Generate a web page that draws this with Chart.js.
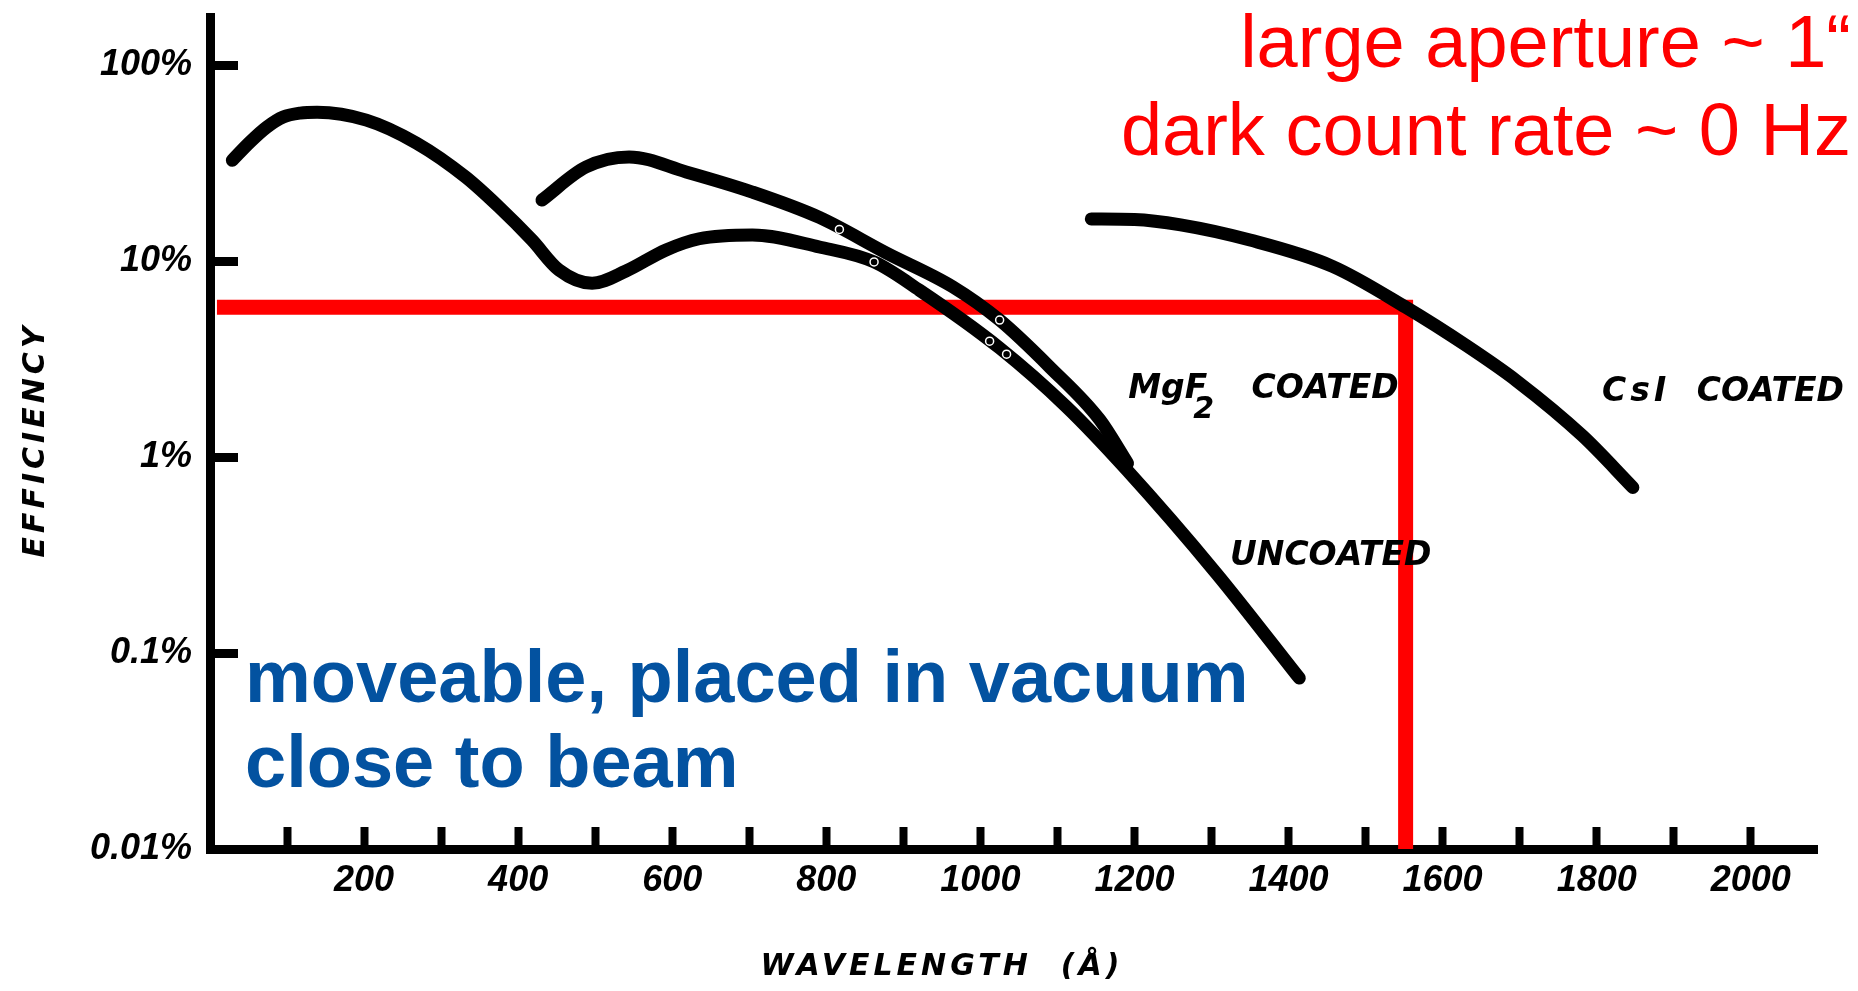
<!DOCTYPE html>
<html>
<head>
<meta charset="utf-8">
<script src="https://cdn.jsdelivr.net/npm/chart.js@4.4.1/dist/chart.umd.min.js"></script>
<style>
  html, body { margin: 0; padding: 0; background: #fff; overflow: hidden; }
  canvas { display: block; }
</style>
</head>
<body>
<canvas id="chart" width="1858" height="991"></canvas>
<script>
// Detection efficiency (%) versus wavelength (Å)
const uncoatedWl  = [29, 52, 74, 95, 117, 139, 203, 268, 332, 375, 418, 453, 496, 540, 592, 635, 704, 791, 862, 921, 1025, 1112, 1190, 1306, 1414];
const uncoatedEff = [32.7, 40.5, 48.3, 54.3, 56.9, 57.5, 52.4, 40.0, 26.8, 18.9, 12.8, 9.0, 7.7, 8.9, 11.4, 13.0, 13.6, 11.8, 9.9, 7.1, 3.6, 1.8, 0.86, 0.256, 0.0745];

const mgf2Wl  = [431, 488, 544, 618, 704, 791, 878, 964, 1025, 1090, 1155, 1191];
const mgf2Eff = [20.5, 30.2, 34.0, 28.5, 22.5, 16.7, 11.0, 7.4, 5.0, 2.88, 1.55, 0.93];

const csiWl  = [1144, 1200, 1260, 1350, 1457, 1552, 1631, 1696, 1782, 1847];
const csiEff = [16.4, 16.3, 15.3, 12.8, 9.4, 5.82, 3.7, 2.45, 1.28, 0.70];

// Calibration points marked on the curves
const dotWl  = [817, 862, 1025, 1012, 1034];
const dotEff = [14.5, 9.9, 5.0, 3.9, 3.35];

// Working point: efficiency level and wavelength read-off
const markerWl  = [9, 1552, 1552];
const markerEff = [5.82, 5.82, 0.01];

// Axis ticks
const xTickValues = [100, 200, 300, 400, 500, 600, 700, 800, 900, 1000, 1100, 1200, 1300, 1400, 1500, 1600, 1700, 1800, 1900, 2000];
const xTickLabels = ['', '200', '', '400', '', '600', '', '800', '', '1000', '', '1200', '', '1400', '', '1600', '', '1800', '', '2000'];
const yTickValues = [0.01, 0.1, 1, 10, 100];
const yTickLabels = ['0.01%', '0.1%', '1%', '10%', '100%'];

// Text
const xTitle = 'WAVELENGTH  (Å)';
const yTitle = 'EFFICIENCY';
const headline = ['large aperture ~ 1\u201C', 'dark count rate ~ 0 Hz'];
const note = ['moveable, placed in vacuum', 'close to beam'];

const pts = (xs, ys) => xs.map((x, i) => ({ x: x, y: ys[i] }));

const tickFont = { family: "'Liberation Sans', Arial, sans-serif", size: 36, style: 'italic', weight: 'bold' };

const curveStyle = {
  borderColor: '#000',
  borderWidth: 13,
  pointRadius: 0,
  cubicInterpolationMode: 'monotone',
  borderCapStyle: 'round',
  borderJoinStyle: 'round',
  fill: false,
  order: 2
};

const annotations = {
  id: 'annotations',
  afterDraw(chart) {
    const ctx = chart.ctx;
    const xs = chart.scales.x, ys = chart.scales.y;
    const px = v => xs.getPixelForValue(v);
    const py = v => ys.getPixelForValue(v);
    ctx.save();

    // curve names
    ctx.fillStyle = '#000';
    ctx.textAlign = 'left';
    ctx.textBaseline = 'alphabetic';
    ctx.font = "italic bold 33px 'DejaVu Sans'";
    const y0 = py(2.0);
    const x0 = px(1192);
    ctx.fillText('MgF', x0, y0);
    const w = ctx.measureText('MgF').width;
    ctx.font = "italic bold 30px 'DejaVu Sans'";
    ctx.fillText('2', x0 + w - 14, y0 + 20);
    ctx.font = "italic bold 33px 'DejaVu Sans'";
    ctx.fillText('COATED', px(1352), y0);

    ctx.letterSpacing = '4px';
    ctx.fillText('CsI', px(1807), py(1.94));
    ctx.letterSpacing = '0px';
    ctx.fillText('COATED', px(1930), py(1.94));
    ctx.fillText('UNCOATED', px(1324), py(0.281));

    // axis titles
    ctx.font = "italic bold 30px 'DejaVu Sans'";
    ctx.letterSpacing = '4px';
    ctx.textAlign = 'center';
    ctx.textBaseline = 'middle';
    ctx.fillText(xTitle, 942, 967);
    ctx.save();
    ctx.translate(36, 440);
    ctx.rotate(-Math.PI / 2);
    ctx.fillText(yTitle, 0, 0);
    ctx.restore();
    ctx.letterSpacing = '0px';

    // headline in red
    ctx.fillStyle = '#FF0000';
    ctx.font = "74px 'Liberation Sans', Arial, sans-serif";
    ctx.textAlign = 'right';
    ctx.textBaseline = 'alphabetic';
    ctx.fillText(headline[0], 1851, 67);
    ctx.fillText(headline[1], 1851, 155);

    // note in blue
    ctx.fillStyle = '#0352A0';
    ctx.font = "bold 74px 'Liberation Sans', Arial, sans-serif";
    ctx.textAlign = 'left';
    ctx.fillText(note[0], 245, 702);
    ctx.fillText(note[1], 245, 787);

    ctx.restore();
  }
};

new Chart(document.getElementById('chart'), {
  type: 'line',
  data: {
    datasets: [
      Object.assign({ label: 'Uncoated', data: pts(uncoatedWl, uncoatedEff) }, curveStyle),
      Object.assign({ label: 'MgF2 coated', data: pts(mgf2Wl, mgf2Eff) }, curveStyle),
      Object.assign({ label: 'CsI coated', data: pts(csiWl, csiEff) }, curveStyle),
      {
        label: 'Calibration points',
        data: pts(dotWl, dotEff),
        showLine: false,
        pointRadius: 4,
        pointBackgroundColor: '#000',
        pointBorderColor: '#fff',
        pointBorderWidth: 1.5,
        order: 1
      },
      {
        label: 'Working point',
        data: pts(markerWl, markerEff),
        borderColor: '#FF0000',
        borderWidth: 15,
        pointRadius: 0,
        tension: 0,
        borderCapStyle: 'butt',
        borderJoinStyle: 'miter',
        fill: false,
        order: 10
      }
    ]
  },
  options: {
    responsive: false,
    maintainAspectRatio: false,
    devicePixelRatio: 1,
    animation: false,
    events: [],
    layout: { padding: { top: 17, right: 41, left: 0, bottom: 0 } },
    plugins: { legend: { display: false }, tooltip: { enabled: false }, title: { display: false } },
    scales: {
      x: {
        type: 'linear',
        min: 0,
        max: 2086,
        afterBuildTicks: s => { s.ticks = xTickValues.map(v => ({ value: v })); },
        afterFit: s => { s.height = 142; s.paddingLeft = 0; s.paddingRight = 0; },
        grid: { drawOnChartArea: false, drawTicks: true, tickLength: -22, tickWidth: 8, tickColor: '#000' },
        border: { display: true, color: '#000', width: 9 },
        ticks: {
          autoSkip: false,
          maxRotation: 0,
          minRotation: 0,
          padding: 32,
          color: '#000',
          font: tickFont,
          callback: (v, i) => xTickLabels[i]
        }
      },
      y: {
        type: 'logarithmic',
        min: 0.01,
        max: 176,
        afterBuildTicks: s => { s.ticks = yTickValues.map(v => ({ value: v })); },
        afterFit: s => { s.width = 210; s.paddingTop = 0; s.paddingBottom = 0; },
        grid: { drawOnChartArea: false, drawTicks: true, tickLength: -28, tickWidth: 9, tickColor: '#000' },
        border: { display: true, color: '#000', width: 9 },
        ticks: {
          padding: 46,
          color: '#000',
          font: tickFont,
          callback: (v, i) => yTickLabels[i]
        }
      }
    }
  },
  plugins: [annotations]
});
</script>
</body>
</html>
